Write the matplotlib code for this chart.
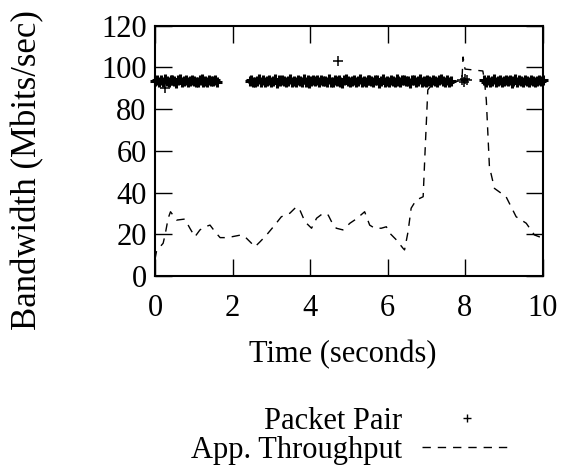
import matplotlib
matplotlib.use("Agg")
import matplotlib.pyplot as plt
import numpy as np

plt.rcParams['font.family'] = ['Liberation Serif', 'DejaVu Serif']

# packet pair estimates: segments of regularly spaced probes (start, stop, values)
pp_seg1_span = (0.0, 1.6)
pp_seg1 = [93.6, 94.2, 92.9, 93.8, 93.1, 94.4, 93.5, 92.8, 93.9, 94.1,
           93.3, 92.7, 93.8, 94.3, 93.0, 93.6, 94.0, 92.9, 93.4, 94.2,
           93.7, 93.1, 92.8, 93.9, 94.5, 93.2, 93.6, 92.9, 94.0, 93.5,
           93.3, 94.1, 93.0]
pp_seg2_span = (2.44, 7.63)
pp_seg2 = [93.4, 94.0, 93.1, 92.8, 93.7, 94.3, 93.2, 93.9, 92.9, 93.6,
           94.2, 93.0, 93.5, 94.4, 92.7, 93.8, 93.3, 94.1, 93.6, 92.9,
           93.7, 94.5, 93.1, 93.4, 92.8, 94.0, 93.6, 93.2, 94.3, 93.0,
           93.9, 92.6, 93.5, 94.2, 93.3, 93.8, 92.9, 94.1, 93.4, 93.7,
           93.0, 94.4, 93.2, 92.8, 93.9, 93.5, 94.0, 93.1, 92.7, 93.8,
           94.3, 93.4, 93.0, 93.7, 94.1, 92.9, 93.6, 94.6, 93.2, 93.5,
           92.8, 93.9, 94.2, 93.3, 93.0, 93.8, 94.0, 92.7, 93.6, 94.4,
           93.1, 93.5, 92.9, 94.1, 93.7, 93.2, 94.3, 93.4, 92.8, 93.9,
           94.0, 93.3, 93.6, 92.6, 94.2, 93.8, 93.1, 93.5, 94.5, 93.0,
           93.7, 92.9, 94.1, 93.4, 93.2, 94.0, 93.6, 92.8, 93.9, 94.3,
           93.5, 93.1, 94.2, 92.9, 93.7]
pp_seg3_span = (8.5, 10.0)
pp_seg3 = [93.8, 93.2, 94.1, 92.9, 93.5, 94.3, 93.0, 93.7, 94.0, 92.8,
           93.6, 94.2, 93.3, 93.9, 92.7, 93.4, 94.4, 93.1, 93.8, 93.5,
           92.9, 94.1, 93.6, 93.2, 94.0, 93.3, 92.8, 93.7, 94.2, 93.5,
           93.9]
# isolated probes
pp_extra_t = [0.26, 4.72, 7.93, 7.97, 8.01, 8.04]
pp_extra_v = [90.1, 103.2, 94.0, 93.2, 94.6, 93.8]

# application throughput
thr_t = [0.0, 0.04, 0.21, 0.26, 0.34, 0.40, 0.56, 0.77, 0.90, 1.03, 1.16, 1.29,
         1.42, 1.55, 1.68, 1.80, 1.98, 2.23, 2.36, 2.49, 2.58, 2.71, 2.88, 3.09,
         3.26, 3.48, 3.65, 3.74, 3.87, 4.04, 4.17, 4.34, 4.47, 4.60, 4.68, 4.85,
         5.03, 5.15, 5.31, 5.41, 5.54, 5.67, 5.84, 5.97, 6.06, 6.23, 6.40, 6.44,
         6.53, 6.61, 6.74, 6.92, 6.97, 7.04, 7.17, 7.50, 7.92, 7.95, 8.00, 8.46,
         8.50, 8.55, 8.63, 8.76, 9.06, 9.32, 9.58, 9.79, 10.0]
thr_v = [8, 12, 15.7, 19.7, 27.7, 30.8, 26.8, 27.3, 22.9, 18.8, 22.1, 23.6,
         24.4, 21.2, 18.4, 18.4, 18.8, 19.7, 18.1, 15.7, 14.0, 16.4, 19.7, 24.4,
         28.4, 30.1, 33.2, 31.6, 26.0, 22.9, 27.7, 30.1, 29.2, 24.4, 22.9, 22.1,
         25.3, 26.8, 29.2, 30.8, 24.4, 22.9, 22.9, 23.6, 20.5, 17.3, 13.3, 12.5,
         21.2, 32.5, 36.4, 38.0, 60.0, 89.2, 92.4, 93.0, 93.5, 105.0, 99.2, 98.3,
         94.0, 84.4, 52.4, 42.0, 38.0, 28.4, 25.3, 19.7, 18.2]

x_ticks = [0, 2, 4, 6, 8, 10]
y_ticks = [0, 20, 40, 60, 80, 100, 120]

pp_t, pp_v = [], []
for span, vals in [(pp_seg1_span, pp_seg1), (pp_seg2_span, pp_seg2), (pp_seg3_span, pp_seg3)]:
    pp_t.extend(np.linspace(span[0], span[1], len(vals)))
    pp_v.extend(vals)

fig = plt.figure(figsize=(5.7, 4.72), dpi=100)
ax = fig.add_axes([155 / 570, 1 - 276 / 472, 387.5 / 570, 250.3 / 472])

# dense band of probes drawn heavy so it reads as a solid stripe
ax.plot(pp_t, pp_v, linestyle='none', marker='+', markersize=7.5, mew=2.2,
        color='black', label='Packet Pair', clip_on=False)
ax.plot(pp_extra_t, pp_extra_v, linestyle='none', marker='+', markersize=7,
        mew=1.1, color='black', clip_on=False)
ax.plot(thr_t, thr_v, color='black', lw=1.0, dashes=(6, 5),
        label='App. Throughput')

ax.set_xlim(0, 10)
ax.set_ylim(0, 120)
ax.set_xticks(x_ticks)
ax.set_yticks(y_ticks)
for s in ax.spines.values():
    s.set_linewidth(1.5)
ax.tick_params(direction='in', length=12, width=1.0, top=True, right=True,
               labelsize=22)
ax.tick_params(axis='y', pad=6)
ax.tick_params(axis='x', pad=13)

fig.text(343 / 570, 1 - 355 / 472, 'Time (seconds)', ha='center', va='center',
         fontsize=22)
fig.text(28 / 570, 1 - 170 / 472, 'Bandwidth (Mbits/sec)', ha='center',
         va='center', rotation=90, fontsize=25)

leg = ax.legend(loc='center right', bbox_to_anchor=(511 / 570, 1 - 436 / 472),
                bbox_transform=fig.transFigure, frameon=False, markerfirst=False,
                fontsize=22, handlelength=2.9, handletextpad=0.65,
                labelspacing=0.0, borderpad=0, borderaxespad=0)
leg.legend_handles[0].set_markersize(6)
leg.legend_handles[0].set_markeredgewidth(1.0)

fig.savefig('out.png', dpi=100)
